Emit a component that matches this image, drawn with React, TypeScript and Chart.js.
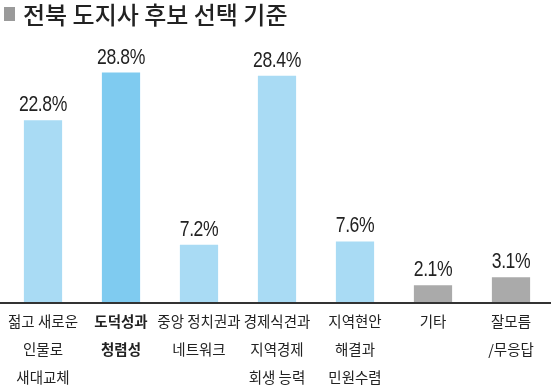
import React, { useEffect, useRef } from "react";
import { Chart, registerables } from "chart.js";

Chart.register(...registerables);

const TITLE = "전북 도지사 후보 선택 기준";
const categories: string[][] = [
  ["젊고 새로운", "인물로", "새대교체"],
  ["도덕성과", "청렴성"],
  ["중앙 정치권과", "네트워크"],
  ["경제식견과", "지역경제", "회생 능력"],
  ["지역현안", "해결과", "민원수렴"],
  ["기타"],
  ["잘모름", "/무응답"],
];
const values: number[] = [22.8, 28.8, 7.2, 28.4, 7.6, 2.1, 3.1];
const valueLabels: string[] = ["22.8%", "28.8%", "7.2%", "28.4%", "7.6%", "2.1%", "3.1%"];
const barColors: string[] = ["#a9dbf4", "#7fcbf0", "#a9dbf4", "#a9dbf4", "#a9dbf4", "#aaaaaa", "#aaaaaa"];
const HIGHLIGHT = 1;

const KR = "'Noto Sans CJK KR', 'Noto Sans', sans-serif";

export default function App() {
  const ref = useRef<HTMLCanvasElement | null>(null);
  useEffect(() => {
    document.body.style.margin = "0";
    const canvas = ref.current!;
    const titlePlugin = {
      id: "titleBox",
      afterDraw(chart: any) {
        const ctx = chart.ctx;
        ctx.save();
        ctx.fillStyle = "#9a9a9a";
        ctx.fillRect(4, 7, 11, 14);
        ctx.fillStyle = "#222";
        ctx.font = `500 24px ${KR}`;
        ctx.textBaseline = "alphabetic";
        ctx.textAlign = "left";
        ctx.fillText(TITLE, 23, 24);
        ctx.restore();
      },
    };
    const axisPlugin = {
      id: "baseLine",
      afterDatasetsDraw(chart: any) {
        const ctx = chart.ctx;
        const y = chart.chartArea.bottom;
        ctx.save();
        ctx.fillStyle = "#333";
        ctx.fillRect(0, y, chart.width, 2);
        ctx.restore();
      },
    };
    const valuePlugin = {
      id: "valueLabels",
      afterDatasetsDraw(chart: any) {
        const ctx = chart.ctx;
        const meta = chart.getDatasetMeta(0);
        const sx = 0.8;
        meta.data.forEach((bar: any, i: number) => {
          ctx.save();
          ctx.fillStyle = "#222";
          ctx.textAlign = "center";
          ctx.textBaseline = "alphabetic";
          (ctx as any).letterSpacing = "-0.5px";
          ctx.font = `22px 'Liberation Sans', Arial, sans-serif`;
          ctx.translate(bar.x, bar.y - 9);
          ctx.scale(sx, 1);
          ctx.fillText(valueLabels[i], 0, 0);
          ctx.restore();
        });
      },
    };
    const chart = new Chart(canvas, {
      type: "bar",
      data: {
        labels: categories,
        datasets: [
          {
            data: values,
            backgroundColor: barColors,
            barPercentage: 0.49,
            categoryPercentage: 1,
          },
        ],
      },
      options: {
        animation: false,
        responsive: false,
        maintainAspectRatio: false,
        layout: { padding: { top: 63, left: 4, right: 1, bottom: 0 } },
        plugins: { legend: { display: false }, tooltip: { enabled: false }, title: { display: false } },
        scales: {
          x: {
            grid: { display: false, drawTicks: false },
            border: { display: false },
            afterFit: (scale: any) => {
              scale.height = 86;
            },
            ticks: {
              autoSkip: false,
              maxRotation: 0,
              minRotation: 0,
              padding: 5,
              color: "#222",
              font: ((c: any) => ({
                family: KR,
                size: 14.5,
                weight: c.index === HIGHLIGHT ? "bold" : "normal",
                lineHeight: 1.95,
              })) as any,
            },
          },
          y: { display: false, min: 0, max: 30 },
        },
      },
      plugins: [titlePlugin, axisPlugin, valuePlugin],
    });
    return () => chart.destroy();
  }, []);
  return <canvas ref={ref} width={551} height={388} style={{ display: "block" }} />;
}
